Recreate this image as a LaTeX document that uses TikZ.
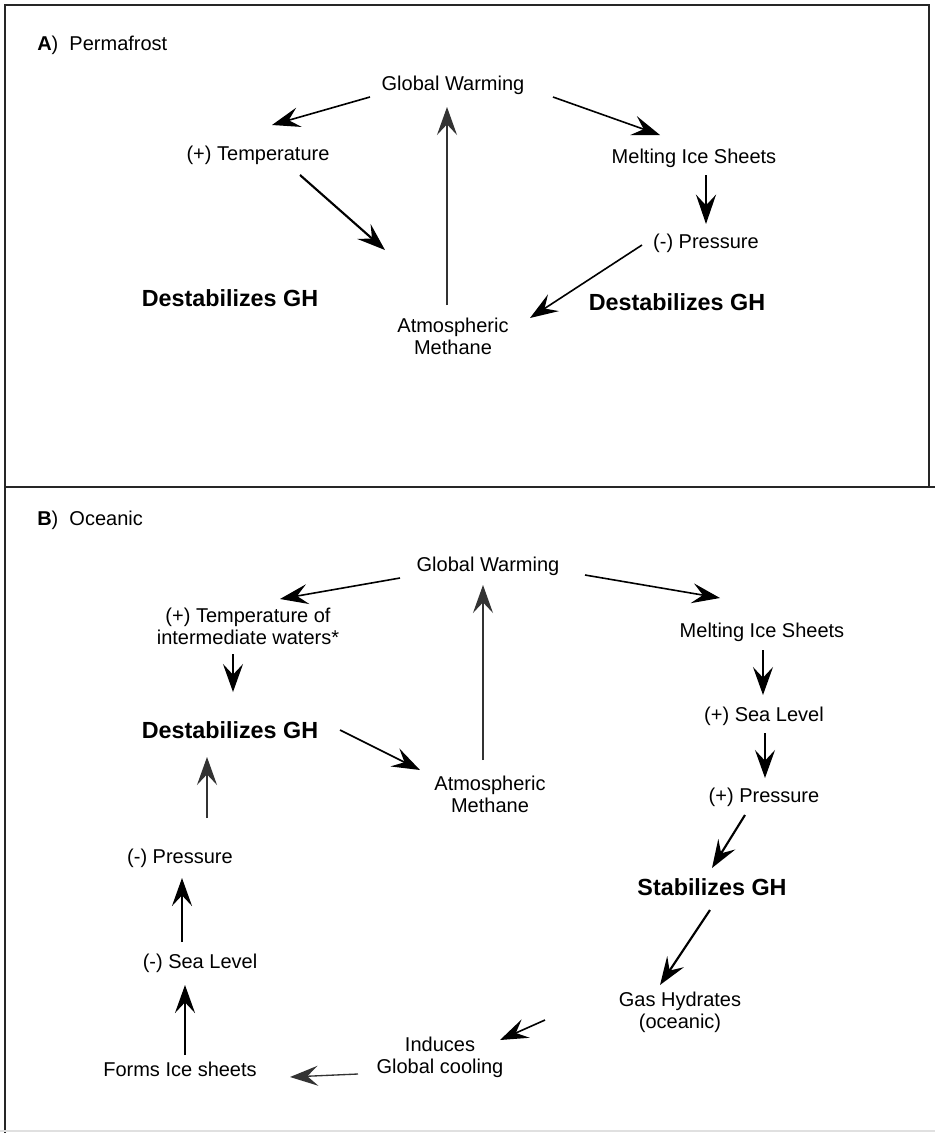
\documentclass[tikz,border=0pt]{standalone}
\usepackage{fontspec}
\setmainfont{Liberation Sans}
\usetikzlibrary{arrows.meta,calc}
\begin{document}
\begin{tikzpicture}[x=0.75pt,y=-0.75pt,
  txt/.style={font=\fontsize{15pt}{16.5pt}\selectfont, align=center, inner sep=0pt},
  bld/.style={font=\fontsize{17.5pt}{20pt}\selectfont\bfseries, inner sep=0pt},
  arr/.style={draw=black, line width=1.2pt, -{Stealth[length=21pt,width=15pt,inset=8pt]}},
  arrthin/.style={arr, draw=black!80, line width=1pt},
  arrmed/.style={arr, line width=1.6pt},
  arrthick/.style={arr, line width=2pt, -{Stealth[length=22pt,width=15pt,inset=8pt]}},
  frame/.style={draw=black!85, line width=1.5pt}]
\useasboundingbox (0,0) rectangle (935,1133);
\fill[white] (0,0) rectangle (935,1133);
% frames
\draw[frame] (929,487) -- (929,5) -- (5,5) -- (5,1133);
\draw[frame] (5,487) -- (935,487);
\draw[black!12, line width=1pt] (0,1131) -- (935,1131);

% ---------- Panel A ----------
\node[txt, anchor=west] (labA) at (37,45) {\textbf{A})\ \ Permafrost};
\node[txt] (gwA) at (453,85) {Global Warming};
\node[txt] (tempA) at (258,155) {(+) Temperature};
\node[txt] (meltA) at (694,158) {Melting Ice Sheets};
\node[txt] (presA) at (706,243) {(-) Pressure};
\node[bld] (dlA) at (230,298) {Destabilizes GH};
\node[bld] (drA) at (677,302) {Destabilizes GH};
\node[txt] (methA) at (453,336) {Atmospheric\\Methane};

\draw[arr] ($(gwA)+(-83,12)$) -- ($(tempA)+(14,-30)$);
\draw[arrthin] ($(methA)+(-6,-31)$) -- ($(gwA)+(-6,22)$);
\draw[arr] ($(gwA)+(100,12)$) -- ($(meltA)+(-34,-23)$);
\draw[arrthick] ($(meltA)+(12,17)$) -- ($(presA)+(0,-19)$);
\draw[arrmed] ($(tempA)+(42,20)$) -- ($(methA)+(-68,-86)$);
\draw[arr] ($(presA)+(-64,2)$) -- ($(methA)+(77,-18)$);

% ---------- Panel B ----------
\node[txt, anchor=west] (labB) at (37,520) {\textbf{B})\ \ Oceanic};
\node[txt] (gwB) at (488,566) {Global Warming};
\node[txt] (tempB) at (248,626) {(+) Temperature of\\intermediate waters*};
\node[bld] (destB) at (230,730) {Destabilizes GH};
\node[txt] (methB) at (490,794) {Atmospheric\\Methane};
\node[txt] (meltB) at (762,632) {Melting Ice Sheets};
\node[txt] (seaB) at (764,716) {(+) Sea Level};
\node[txt] (pressB) at (764,797) {(+) Pressure};
\node[bld] (stabB) at (712,887) {Stabilizes GH};
\node[txt] (ghB) at (680,1012) {Gas Hydrates\\(oceanic)};
\node[txt] (indB) at (440,1057) {Induces\\Global cooling};
\node[txt] (formsB) at (180,1069) {Forms Ice sheets};
\node[txt] (seamB) at (200,963) {(-) Sea Level};
\node[txt] (presmB) at (180,858) {(-) Pressure};

\draw[arr] ($(gwB)+(-88,12)$) -- ($(tempB)+(32,-27)$);
\draw[arrthin] ($(methB)+(-7,-34)$) -- ($(gwB)+(-5,19)$);
\draw[arr] ($(gwB)+(97,9)$) -- ($(meltB)+(-42,-34)$);
\draw[arr] ($(tempB)+(-15,28)$) -- ($(destB)+(3,-38)$);
\draw[arr] ($(destB)+(110,0)$) -- ($(methB)+(-70,-24)$);
\draw[arr] ($(meltB)+(1,18)$) -- ($(seaB)+(-1,-21)$);
\draw[arr] ($(seaB)+(1,17)$) -- ($(pressB)+(1,-19)$);
\draw[arrmed] ($(pressB)+(-19,18)$) -- ($(stabB)+(0,-19)$);
\draw[arrmed] ($(stabB)+(-2,23)$) -- ($(ghB)+(-20,-27)$);
\draw[arr] ($(ghB)+(-135,8)$) -- ($(indB)+(60,-17)$);
\draw[arrthin] ($(indB)+(-82,17)$) -- ($(formsB)+(110,8)$);
\draw[arrmed] ($(formsB)+(5,-14)$) -- ($(seamB)+(-15,22)$);
\draw[arrmed] ($(seamB)+(-18,-21)$) -- ($(presmB)+(2,20)$);
\draw[arrthin] ($(presmB)+(27,-40)$) -- ($(destB)+(-23,27)$);
\end{tikzpicture}
\end{document}
